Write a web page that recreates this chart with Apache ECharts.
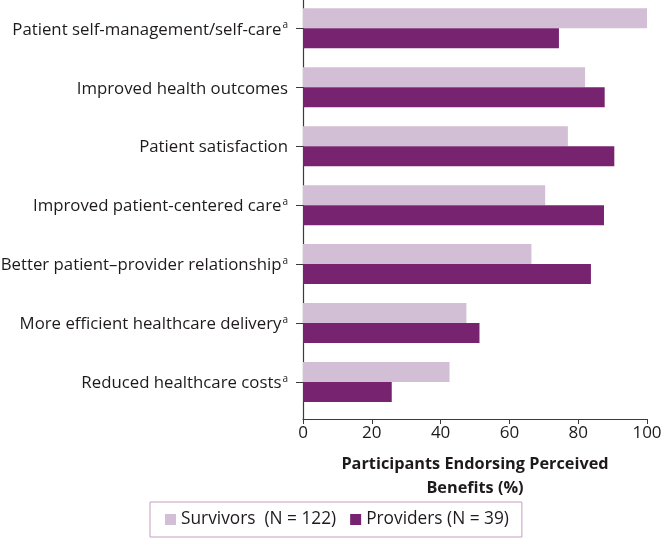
<!DOCTYPE html>
<html>
<head>
<meta charset="utf-8">
<script src="https://cdn.jsdelivr.net/npm/echarts@6/dist/echarts.min.js"></script>
<style>html,body{margin:0;padding:0;background:#fff;}#c{width:667px;height:540px;}</style>
</head>
<body>
<div id="c"></div>
<script>
const categories = [
  'Patient self-management/self-care',
  'Improved health outcomes',
  'Patient satisfaction',
  'Improved patient-centered care',
  'Better patient\u2013provider relationship',
  'More efficient healthcare delivery',
  'Reduced healthcare costs'
];
const footnoteA = [true, false, false, true, true, true, true];
const survivors = [100, 82, 77, 70.4, 66.4, 47.5, 42.6];
const providers = [74.4, 87.7, 90.5, 87.5, 83.7, 51.3, 25.8];
const seriesNames = ['Survivors  (N = 122)', 'Providers (N = 39)'];
const xTicks = { min: 0, max: 100, interval: 20 };

const FONT = '"Open Sans", "Liberation Sans", Arial, sans-serif';
const TXT = '#1e1a1b';
const C_SURV = '#d3bfd5';
const C_PROV = '#772370';

const chart = echarts.init(document.getElementById('c'), null, { renderer: 'canvas' });
chart.setOption({
  animation: false,
  textStyle: { fontFamily: FONT, color: TXT },
  grid: [
    { left: 303, right: 20, top: -1.2, height: 412.7, containLabel: false, outerBoundsMode: 'none' },
    { left: 303, right: 20, top: -1, bottom: 121, containLabel: false, outerBoundsMode: 'none' }
  ],
  legend: {
    left: 150, top: 502,
    data: seriesNames,
    icon: 'rect',
    itemWidth: 11, itemHeight: 11, itemGap: 14,
    borderColor: '#c79dc4', borderWidth: 1,
    padding: [9, 13, 9, 15],
    textStyle: { fontFamily: FONT, fontSize: 17.3, fontWeight: 500, color: TXT }
  },
  xAxis: [
    { gridIndex: 0, type: 'value', min: xTicks.min, max: xTicks.max, interval: xTicks.interval, show: false },
    {
      gridIndex: 1, type: 'value', min: xTicks.min, max: xTicks.max, interval: xTicks.interval,
      position: 'bottom',
      axisLine: { show: true, onZero: false, lineStyle: { color: '#3a3a3a', width: 1.2 } },
      axisTick: { show: true, length: 5, lineStyle: { color: '#3a3a3a' } },
      splitLine: { show: false },
      axisLabel: { fontFamily: FONT, fontSize: 17, fontWeight: 500, color: TXT, margin: 6 },
      name: 'Participants Endorsing Perceived\nBenefits (%)',
      nameLocation: 'middle', nameGap: 33,
      nameTextStyle: { fontFamily: FONT, fontSize: 16.3, fontWeight: 'bold', color: TXT, lineHeight: 24 }
    }
  ],
  yAxis: [
    {
      gridIndex: 0, type: 'category', data: categories, inverse: true,
      axisLine: { show: false },
      axisTick: { show: true, alignWithLabel: true, length: 7, lineStyle: { color: '#3a3a3a' } },
      axisLabel: {
        margin: 15, fontFamily: FONT, fontSize: 16.8, color: TXT,
        formatter: function (v) {
          const idx = categories.indexOf(v);
          return '{m|' + v + '}' + (footnoteA[idx] ? '{s|a}' : '');
        },
        rich: {
          m: { fontFamily: FONT, fontSize: 16.8, fontWeight: 500, color: TXT, lineHeight: 20, verticalAlign: 'bottom' },
          s: { fontFamily: FONT, fontSize: 10, fontWeight: 500, color: TXT, lineHeight: 20, verticalAlign: 'top', padding: [2, 0, 0, 1] }
        }
      }
    },
    {
      gridIndex: 1, type: 'value', min: 0, max: 1, inverse: true,
      axisLine: { show: true, onZero: false, lineStyle: { color: '#3a3a3a', width: 1.2 } },
      axisTick: { show: false }, axisLabel: { show: false }, splitLine: { show: false }
    }
  ],
  series: [
    {
      name: seriesNames[0], type: 'bar', xAxisIndex: 0, yAxisIndex: 0,
      data: survivors, barWidth: 20, barGap: '0%',
      itemStyle: { color: C_SURV }
    },
    {
      name: seriesNames[1], type: 'bar', xAxisIndex: 0, yAxisIndex: 0,
      data: providers, barWidth: 20, barGap: '0%',
      itemStyle: { color: C_PROV }
    }
  ]
});
</script>
</body>
</html>
